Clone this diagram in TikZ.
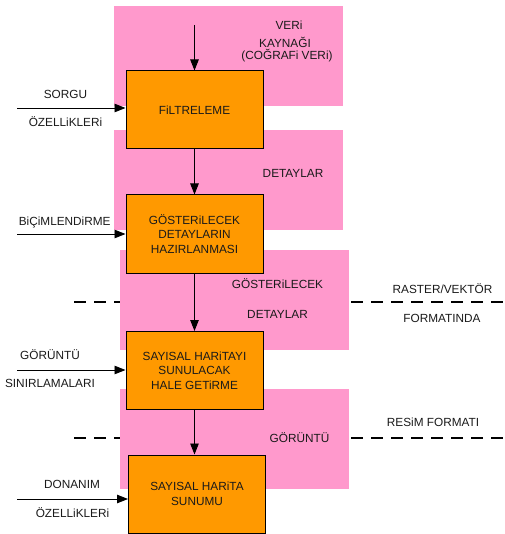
\documentclass[tikz,border=0pt]{standalone}
\usepackage{fontspec}
\setmainfont{Liberation Sans}
\usetikzlibrary{arrows.meta}
\definecolor{pinkbg}{HTML}{FF99CC}
\definecolor{orangebox}{HTML}{FF9900}
\definecolor{txt}{HTML}{1A1A1A}
\begin{document}
\begin{tikzpicture}[x=1pt,y=-1pt,
  bg/.style={fill=pinkbg,draw=none},
  proc/.style={draw=black,line width=1pt,fill=orangebox,minimum width=137pt,minimum height=78pt,inner sep=0pt,align=center,text=txt,font=\fontsize{11.8}{14.5}\selectfont},
  lbl/.style={text=txt,font=\fontsize{11.8}{14.5}\selectfont,inner sep=0pt,align=center},
  flow/.style={line width=0.9pt,-{Triangle[length=11pt,width=8.5pt]}},
  sep/.style={line width=2.2pt,dash pattern=on 12pt off 8pt}]
\useasboundingbox (0,0) rectangle (504,534);
% pink backgrounds
\fill[bg] (114,6) rectangle (343,106);
\fill[bg] (114,130) rectangle (343,230);
\fill[bg] (120,250) rectangle (349,350);
\fill[bg] (120,389) rectangle (349,489);
% dashed separators
\draw[sep] (74,302) -- (120,302);
\draw[sep] (351,302) -- (504,302);
\draw[sep] (74,438) -- (120,438);
\draw[sep] (351,438) -- (504,438);
% process boxes
\node[proc] (b1) at (194.5,110) {FiLTRELEME};
\node[proc] (b2) at (194.5,234) {GÖSTERiLECEK\\DETAYLARIN\\HAZIRLANMASI};
\node[proc] (b3) at (194.5,370.5) {SAYISAL HARiTAYI\\SUNULACAK\\HALE GETiRME};
\node[proc] (b4) at (197,494) {SAYISAL HARiTA\\SUNUMU};
% right labels
\node[lbl] (l1) at (289,25) {VERi};
\node[lbl] (l2) at (285,42) {KAYNAĞI};
\node[lbl] (l3) at (287,56) {(COĞRAFi VERi)};
\node[lbl] (l4) at (293,173) {DETAYLAR};
\node[lbl] (l5) at (277.5,284) {GÖSTERiLECEK};
\node[lbl] (l6) at (277.5,314) {DETAYLAR};
\node[lbl] (l7) at (442.5,289) {RASTER/VEKTÖR};
\node[lbl] (l8) at (442,318) {FORMATINDA};
\node[lbl] (l9) at (299.5,438) {GÖRÜNTÜ};
\node[lbl] (l10) at (433,422) {RESiM FORMATI};
% left labels
\node[lbl] (s1) at (65.5,94) {SORGU};
\node[lbl] (s2) at (65.5,122) {ÖZELLiKLERi};
\node[lbl] (s3) at (64.7,222) {BiÇiMLENDiRME};
\node[lbl] (s4) at (50,355) {GÖRÜNTÜ};
\node[lbl] (s5) at (50,383) {SINIRLAMALARI};
\node[lbl] (s6) at (72,484) {DONANIM};
\node[lbl] (s7) at (72.5,513) {ÖZELLiKLERi};
% free ends
\coordinate (top) at (194.5,25);
\coordinate (in1) at (17,108);
\coordinate (in2) at (17,234);
\coordinate (in3) at (17,370);
\coordinate (in4) at (17,499);
% flow arrows
\draw[flow] (top) -- (b1.north);
\draw[flow] (b1.south) -- (b2.north);
\draw[flow] (b2.south) -- (b3.north);
\draw[flow] (b3.south) -- (b3.south |- b4.north);
\draw[flow] (in1) -- (in1 -| b1.west);
\draw[flow] (in2) -- (in2 -| b2.west);
\draw[flow] (in3) -- (in3 -| b3.west);
\draw[flow] (in4) -- (in4 -| b4.west);
\end{tikzpicture}
\end{document}
